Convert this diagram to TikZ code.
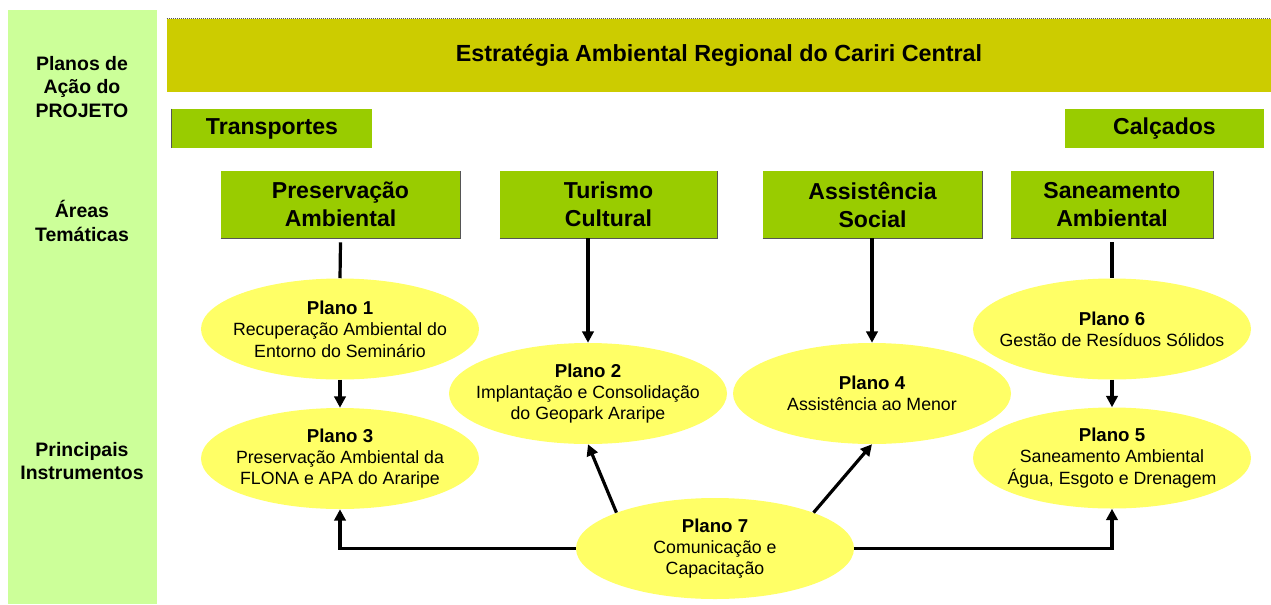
\documentclass[tikz,border=0pt]{standalone}
\usepackage{fontspec}
\setmainfont{Liberation Sans}
\usetikzlibrary{shapes.geometric,arrows.meta}
\definecolor{colL}{HTML}{CCFF99}
\definecolor{colT}{HTML}{CCCC00}
\definecolor{colG}{HTML}{99CC00}
\definecolor{colY}{HTML}{FFFF66}
\definecolor{edge}{HTML}{555555}
\newcommand\plantitle[1]{{\fontsize{14}{16}\selectfont\bfseries #1}}
\tikzset{
  gbox/.style 2 args={fill=colG, minimum width=#1*0.75pt, minimum height=#2*0.75pt,
    inner sep=0pt, align=center, font=\fontsize{17.3}{21}\selectfont\bfseries},
  lefttxt/.style={align=center, inner sep=0pt, font=\fontsize{14.6}{17.6}\selectfont\bfseries},
  plan/.style={ellipse, fill=colY, minimum width=208.5pt, minimum height=75.75pt,
    inner xsep=-20pt, inner ysep=0pt, align=center, font=\fontsize{13.3}{16}\selectfont},
  ln/.style={line width=2.4pt},
  ar/.style={line width=2.4pt, -{Triangle[length=8.5pt,width=8.5pt]}},
  shade/.style={edge, line width=0.6pt}
}
\begin{document}
\begin{tikzpicture}[x=0.75pt,y=-0.75pt]
\useasboundingbox (0,0) rectangle (1271,604);
% left column
\node[fill=colL, minimum width=111.75pt, minimum height=445.5pt, inner sep=0pt] (col) at (82.5,307) {};
\node[lefttxt] (l1) at (82,87) {Planos de\\Ação do\\PROJETO};
\node[lefttxt] (l2) at (82,221) {Áreas\\Temáticas};
\node[lefttxt] (l3) at (82,461) {Principais\\Instrumentos};
% title
\node[fill=colT, minimum width=828pt, minimum height=54.75pt, inner sep=0pt,
  font=\fontsize{17.5}{21}\selectfont\bfseries] (title) at (719,55.5) {\raisebox{-2pt}{Estratégia Ambiental Regional do Cariri Central}};
\draw[edge, line width=0.5pt, densely dotted] (title.north west) -- (title.north east);
% row boxes
\node[gbox={200}{39}] (tr) at (272,128.5) {Transportes};
\draw[shade] (tr.north west) -- (tr.south west);
\node[gbox={199}{39}] (ca) at (1164.5,128.5) {Calçados};
% areas
\node[gbox={239}{67}] (a1) at (340.5,204.5) {Preservação\\Ambiental};
\node[gbox={217}{67}] (a2) at (608.5,204.5) {Turismo\\Cultural};
\node[gbox={219}{67}] (a3) at (872.5,204.5) {Assistência\\Social};
\node[gbox={202}{67}] (a4) at (1112,204.5) {Saneamento\\Ambiental};
\foreach \a in {a1,a2,a3,a4}{
  \draw[shade] (\a.south west) -- (\a.south east) -- (\a.north east);
}
% plans
\node[plan] (p1) at (340,329) {\plantitle{Plano 1}\\Recuperação Ambiental do\\Entorno do Seminário};
\node[plan] (p3) at (340,458.5) {\plantitle{Plano 3}\\Preservação Ambiental da\\FLONA e APA do Araripe};
\node[plan] (p2) at (588,393.5) {\plantitle{Plano 2}\\Implantação e Consolidação\\do Geopark Araripe};
\node[plan] (p4) at (872,393.5) {\plantitle{Plano 4}\\Assistência ao Menor};
\node[plan] (p6) at (1112,329) {\plantitle{Plano 6}\\Gestão de Resíduos Sólidos};
\node[plan] (p5) at (1112,458) {\plantitle{Plano 5}\\Saneamento Ambiental\\Água, Esgoto e Drenagem};
\node[plan] (p7) at (715,548.5) {\plantitle{Plano 7}\\Comunicação e\\Capacitação};
% connectors
\draw[ln] ([yshift=-3pt]a1.south) -- (p1.north);
\draw[ar] (p1.south) -- (p3.north);
\draw[ar] (a2.south -| p2.north) -- (p2.north);
\draw[ar] (a3.south -| p4.north) -- (p4.north);
\draw[ln] ([yshift=-3pt]a4.south) -- (p6.north);
\draw[ar] (p6.south) -- (p5.north);
\draw[ar] (p7.west) -| (p3.south);
\draw[ar] (p7.east) -| (p5.south);
\draw[ar] (p7.160) -- (p2.south);
\draw[ar] (p7.20) -- (p4.south);
\end{tikzpicture}
\end{document}
